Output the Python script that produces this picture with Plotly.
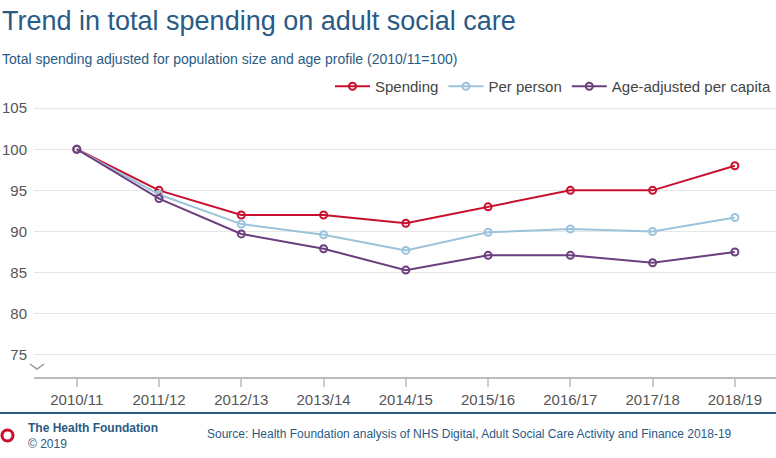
import plotly.graph_objects as go

years = ["2010/11","2011/12","2012/13","2013/14","2014/15","2015/16","2016/17","2017/18","2018/19"]
spending = [100, 95, 92, 92, 91, 93, 95, 95, 98]
per_person = [100, 94.5, 90.9, 89.6, 87.7, 89.9, 90.3, 90.0, 91.7]
age_adjusted = [100, 94, 89.7, 87.9, 85.3, 87.1, 87.1, 86.2, 87.5]

fig = go.Figure()
for name, vals, col in [("Spending", spending, "#c8102e"),
                        ("Per person", per_person, "#9cc3dc"),
                        ("Age-adjusted per capita", age_adjusted, "#6b3f7e")]:
    fig.add_trace(go.Scatter(x=years, y=vals, name=name, mode="lines+markers",
                             line=dict(color=col, width=2),
                             marker=dict(symbol="circle-open", size=7, color=col, line=dict(width=2, color=col))))

W, H = 776, 458
fig.update_layout(
    width=W, height=H, margin=dict(l=34, r=0, t=95, b=81),
    plot_bgcolor="white", paper_bgcolor="white",
    font=dict(family="Liberation Sans, Arial", color="#555", size=14),
    showlegend=True,
    legend=dict(orientation="h", x=1, xanchor="right", y=1 - 8/282, yanchor="bottom",
                font=dict(size=15, color="#444"), itemwidth=35, traceorder="normal"),
    xaxis=dict(range=[-0.52, 8.5], showgrid=False, showline=True, linecolor="#bbb", linewidth=2,
               ticks="outside", tickcolor="#ccc", ticklen=8, tickwidth=2,
               tickfont=dict(size=15, color="#555")),
    yaxis=dict(range=[72.3, 106.6], tickvals=[75, 80, 85, 90, 95, 100, 105], showgrid=True,
               gridcolor="#e6e6e6", zeroline=False, ticks="", tickfont=dict(size=15, color="#555"),
               ticklabelstandoff=6),
)
fig.add_annotation(text="Trend in total spending on adult social care", xref="paper", yref="paper",
                   x=-34/742, y=1 + (95-21)/282, xanchor="left", yanchor="middle", showarrow=False,
                   font=dict(size=27, color="#2a5b84"))
fig.add_annotation(text="Total spending adjusted for population size and age profile (2010/11=100)",
                   xref="paper", yref="paper", x=-34/742, y=1 + (95-59)/282, xanchor="left",
                   yanchor="middle", showarrow=False, font=dict(size=14, color="#2a5b84"))
# break marker
fig.add_shape(type="path", xref="paper", yref="paper",
              path="M %f %f L %f %f L %f %f" % (-4/742, (377-364)/282+0, 3/742, (377-369)/282, 10/742, (377-364)/282),
              line=dict(color="#999", width=1.5))
# footer line
fig.add_shape(type="line", xref="paper", yref="paper", x0=-34/742, x1=1, y0=-(413-377)/282, y1=-(413-377)/282,
              line=dict(color="#2a5b84", width=2))
fig.add_shape(type="circle", xref="paper", yref="paper", x0=-32/742, x1=-21/742,
              y0=-(441-377)/282, y1=-(430-377)/282, line=dict(color="#c8102e", width=3))
fig.add_annotation(text="<b>The Health Foundation</b><br>© 2019", xref="paper", yref="paper",
                   x=-8/742, y=-(436-377)/282, xanchor="left", yanchor="middle", align="left",
                   showarrow=False, font=dict(size=12, color="#2a5b84"))
fig.add_annotation(text="Source: Health Foundation analysis of NHS Digital, Adult Social Care Activity and Finance 2018-19",
                   xref="paper", yref="paper", x=(205-34)/742, y=-(434-377)/282, xanchor="left",
                   yanchor="middle", showarrow=False, font=dict(size=12, color="#2a5b84"))
fig.write_html("out.html", config={"displayModeBar": False},
               post_script="document.body.style.margin='0';document.body.style.overflow='hidden';")
